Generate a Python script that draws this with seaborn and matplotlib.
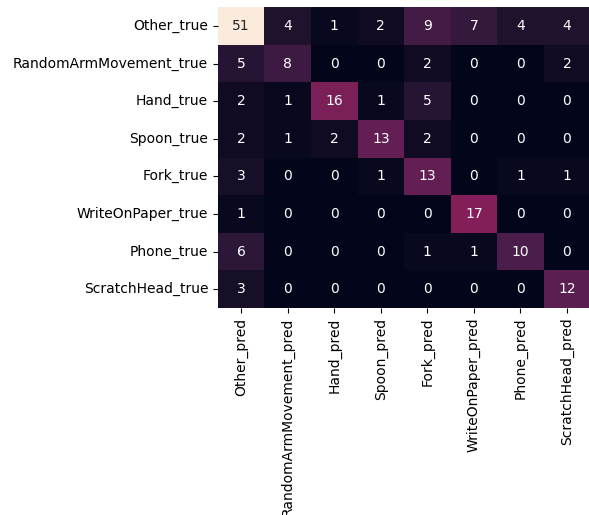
import numpy as np
import pandas as pd
import seaborn as sns
from matplotlib import pyplot as plt

classes = ['Other', 'RandomArmMovement', 'Hand', 'Spoon', 'Fork',
           'WriteOnPaper', 'Phone', 'ScratchHead']
row_labels = [c + '_true' for c in classes]
col_labels = [c + '_pred' for c in classes]

other_row = [51, 4, 1, 2, 9, 7, 4, 4]
random_row = [5, 8, 0, 0, 2, 0, 0, 2]
hand_row = [2, 1, 16, 1, 5, 0, 0, 0]
spoon_row = [2, 1, 2, 13, 2, 0, 0, 0]
fork_row = [3, 0, 0, 1, 13, 0, 1, 1]
write_row = [1, 0, 0, 0, 0, 17, 0, 0]
phone_row = [6, 0, 0, 0, 1, 1, 10, 0]
scratch_row = [3, 0, 0, 0, 0, 0, 0, 12]

cm = pd.DataFrame([other_row, random_row, hand_row, spoon_row,
                   fork_row, write_row, phone_row, scratch_row],
                  index=row_labels, columns=col_labels)

fig = plt.figure(figsize=(5.89, 5.15), dpi=100)
ax = fig.add_axes([0.370, 0.402, 0.632, 0.584])
sns.heatmap(cm, annot=True, fmt='d', cbar=False, ax=ax,
            annot_kws={'fontsize': 10})
plt.xticks(rotation=90)
plt.yticks(rotation=0)
ax.tick_params(labelsize=10)

plt.savefig('out.png', dpi=100)
